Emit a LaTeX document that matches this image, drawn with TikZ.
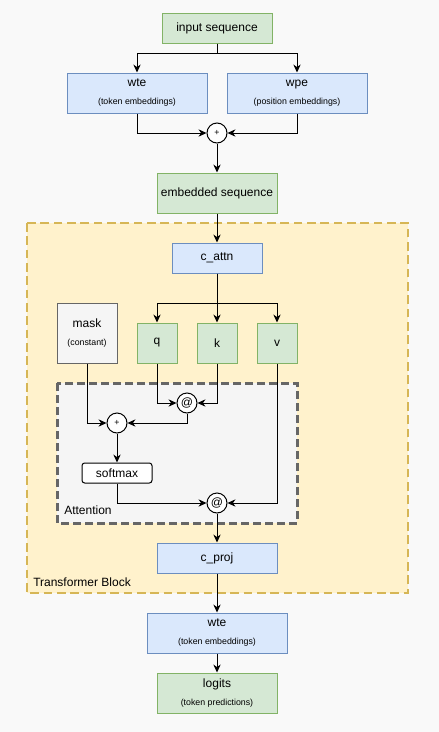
\documentclass[tikz,border=0pt]{standalone}
\usepackage{fontspec}
\setmainfont{Liberation Sans}
\usepackage{xcolor}
\usetikzlibrary{arrows.meta}
\definecolor{greenfill}{HTML}{D5E8D4}
\definecolor{greenline}{HTML}{82B366}
\definecolor{bluefill}{HTML}{DAE8FC}
\definecolor{blueline}{HTML}{6C8EBF}
\definecolor{yellowfill}{HTML}{FFF2CC}
\definecolor{yellowline}{HTML}{D6B656}
\definecolor{grayfill}{HTML}{F5F5F5}
\definecolor{grayline}{HTML}{666666}
\definecolor{pagebg}{HTML}{F9F9F9}
\newcommand{\maintext}{\fontsize{9}{11}\selectfont}
\newcommand{\subtext}{\fontsize{6.6}{8}\selectfont}

\begin{document}
\begin{tikzpicture}[x=0.75pt,y=-0.75pt,>={Stealth[length=6pt,width=5.5pt]},
every node/.style={font=\maintext,inner sep=0pt},
greenbox/.style={draw=greenline,fill=greenfill,line width=0.75pt,align=center},
bluebox/.style={draw=blueline,fill=bluefill,line width=0.75pt,align=center},
graybox/.style={draw=grayline,fill=grayfill,line width=0.75pt,align=center},
opnode/.style={circle,draw,fill=white,line width=0.75pt,minimum size=15pt},
arr/.style={->,line width=0.75pt}]
\useasboundingbox[fill=pagebg] (0,0) rectangle (439,732);
\draw[yellowline,fill=yellowfill,line width=1.5pt,dash pattern=on 6.5pt off 3.5pt] (27,223) rectangle (408,593);
\draw[grayline,fill=grayfill,line width=2.25pt,dash pattern=on 6pt off 3pt] (57,383) rectangle (297,523);

\node[greenbox,minimum width=82.5pt,minimum height=22.5pt] (inp) at (217,28) {input sequence};
\node[bluebox,minimum width=105pt,minimum height=30pt] (wte) at (137,93) {wte\\[2.5pt]{\subtext (token embeddings)}};
\node[bluebox,minimum width=105pt,minimum height=30pt] (wpe) at (297,93) {wpe\\[2.5pt]{\subtext (position embeddings)}};
\node[opnode] (add) at (217,133) {\subtext +};
\node[greenbox,minimum width=90pt,minimum height=30pt] (emb) at (217,193) {embedded sequence};
\node[bluebox,minimum width=67.5pt,minimum height=22.5pt] (cattn) at (217,258) {c\_attn};
\node[graybox,minimum width=45pt,minimum height=45pt] (mask) at (87,333) {mask\\[2.5pt]{\subtext (constant)}};
\node[greenbox,minimum width=30pt,minimum height=30pt] (q) at (157,343) {q};
\node[greenbox,minimum width=30pt,minimum height=30pt] (k) at (217,343) {k};
\node[greenbox,minimum width=30pt,minimum height=30pt] (v) at (277,343) {v};
\node[opnode] (qk) at (187,403) {@};
\node[opnode] (addmask) at (117,423) {\subtext +};
\node[draw,fill=white,rounded corners=2pt,line width=0.75pt,minimum width=52.5pt,minimum height=15pt] (soft) at (117,473) {softmax};
\node[opnode] (av) at (217,503) {@};
\node[anchor=west] (attlbl) at (64,510) {Attention};
\node[bluebox,minimum width=90pt,minimum height=22.5pt] (cproj) at (217,558) {c\_proj};
\node[anchor=west] (blocklbl) at (33,582) {Transformer Block};
\node[bluebox,minimum width=105pt,minimum height=30pt] (wteout) at (217,633) {wte\\[2.5pt]{\subtext (token embeddings)}};
\node[greenbox,minimum width=90pt,minimum height=30pt] (logits) at (217,693) {logits\\[2.5pt]{\subtext (token predictions)}};

\draw[arr] (inp.south) -- ++(0,10) -| (wte.north);
\draw[arr] (inp.south) -- ++(0,10) -| (wpe.north);
\draw[arr] (wte.south) |- (add.west);
\draw[arr] (wpe.south) |- (add.east);
\draw[arr] (add) -- (emb);
\draw[arr] (emb) -- (cattn);
\draw[arr] (cattn.south) -- ++(0,30) -| (q.north);
\draw[arr] (cattn.south) -- (k.north);
\draw[arr] (cattn.south) -- ++(0,30) -| (v.north);
\draw[arr] (q.south) |- (qk.west);
\draw[arr] (k.south) |- (qk.east);
\draw[arr] (mask.south) |- (addmask.west);
\draw[arr] (qk.south) |- (addmask.east);
\draw[arr] (addmask) -- (soft);
\draw[arr] (soft.south) |- (av.west);
\draw[arr] (v.south) |- (av.east);
\draw[arr] (av) -- (cproj);
\draw[arr] (cproj) -- (wteout);
\draw[arr] (wteout) -- (logits);
\end{tikzpicture}
\end{document}
